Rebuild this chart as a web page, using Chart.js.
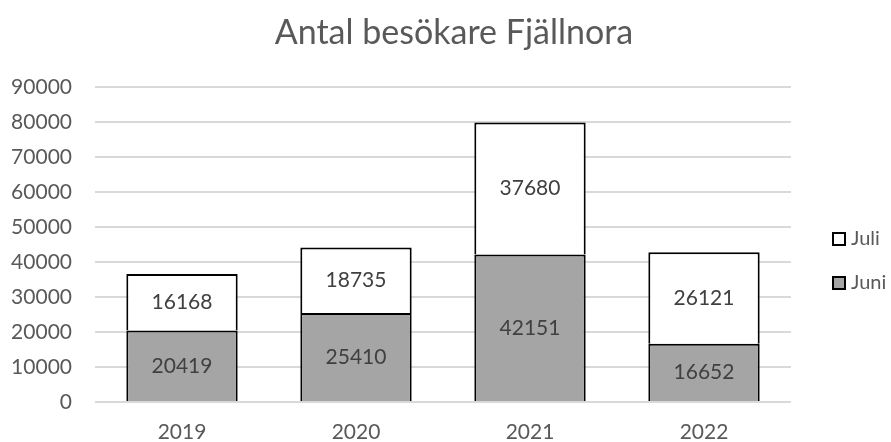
<!DOCTYPE html>
<html>
<head>
<meta charset="utf-8">
<script src="https://cdn.jsdelivr.net/npm/chart.js@4"></script>
<style>
  html, body { margin: 0; padding: 0; background: #fff; }
  #wrap { width: 891px; height: 442px; }
</style>
</head>
<body>
<div id="wrap"><canvas id="besokChart"></canvas></div>
<script>
const years = ['2019', '2020', '2021', '2022'];
const juni = [20419, 25410, 42151, 16652];
const juli = [16168, 18735, 37680, 26121];
const yTicks = [0, 10000, 20000, 30000, 40000, 50000, 60000, 70000, 80000, 90000];
const chartTitle = 'Antal besökare Fjällnora';

const FONT = 'Lato, "Open Sans", sans-serif';

// title is drawn by hand so it can sit a little right of the canvas centre, like the original
const titlePlugin = {
  id: 'titlePlugin',
  afterDraw(chart) {
    const ctx = chart.ctx;
    ctx.save();
    ctx.font = '34px ' + FONT;
    ctx.fillStyle = '#595959';
    ctx.textAlign = 'center';
    ctx.textBaseline = 'alphabetic';
    ctx.fillText(chartTitle, 454, 44);
    ctx.restore();
  }
};

// labels in the middle of each bar segment
const barLabels = {
  id: 'barLabels',
  afterDatasetsDraw(chart) {
    const ctx = chart.ctx;
    ctx.save();
    ctx.font = '21px ' + FONT;
    ctx.fillStyle = '#404040';
    ctx.textAlign = 'center';
    ctx.textBaseline = 'middle';
    chart.data.datasets.forEach((ds, i) => {
      chart.getDatasetMeta(i).data.forEach((bar, j) => {
        const mid = (bar.y + bar.base) / 2;
        ctx.fillText(ds.data[j], bar.x, mid);
      });
    });
    ctx.restore();
  }
};

// legend on the right, Juli above Juni
const sideLegend = {
  id: 'sideLegend',
  afterDraw(chart) {
    const ctx = chart.ctx;
    const x = 833;
    const rows = [{ ds: chart.data.datasets[1], y: 239 }, { ds: chart.data.datasets[0], y: 283 }];
    ctx.save();
    ctx.font = '20px ' + FONT;
    ctx.textBaseline = 'middle';
    rows.forEach(r => {
      ctx.fillStyle = r.ds.backgroundColor;
      ctx.fillRect(x, r.y - 6, 12, 12);
      ctx.strokeStyle = '#000';
      ctx.lineWidth = 2;
      ctx.strokeRect(x, r.y - 6, 12, 12);
      ctx.fillStyle = '#595959';
      ctx.fillText(r.ds.label, x + 18, r.y);
    });
    ctx.restore();
  }
};

const edges = { left: 2, right: 2, top: 2, bottom: 0 };

new Chart(document.getElementById('besokChart'), {
  type: 'bar',
  data: {
    labels: years,
    datasets: [
      { label: 'Juni', data: juni, backgroundColor: '#a5a5a5', borderColor: '#000', borderWidth: edges, borderSkipped: false },
      { label: 'Juli', data: juli, backgroundColor: '#ffffff', borderColor: '#000', borderWidth: edges, borderSkipped: false }
    ]
  },
  options: {
    responsive: true,
    maintainAspectRatio: false,
    animation: false,
    layout: { padding: { left: 0, right: 100, top: 87, bottom: 0 } },
    datasets: { bar: { categoryPercentage: 0.64, barPercentage: 1 } },
    plugins: {
      legend: { display: false },
      tooltip: { enabled: false },
      title: { display: false }
    },
    scales: {
      x: {
        stacked: true,
        grid: { display: false, drawTicks: false },
        border: { display: false },
        ticks: { color: '#595959', font: { family: FONT, size: 21 }, padding: 18 },
        afterFit(axis) { axis.height = 40; }
      },
      y: {
        stacked: true,
        min: 0,
        max: 90000,
        afterBuildTicks(axis) { axis.ticks = yTicks.map(v => ({ value: v })); },
        grid: { color: '#d9d9d9', lineWidth: 2, drawTicks: false },
        border: { display: false },
        ticks: {
          color: '#595959',
          font: { family: FONT, size: 21 },
          padding: 23,
          callback: v => String(v)
        },
        afterFit(axis) { axis.width = 95; }
      }
    }
  },
  plugins: [barLabels, sideLegend, titlePlugin]
});
</script>
</body>
</html>
